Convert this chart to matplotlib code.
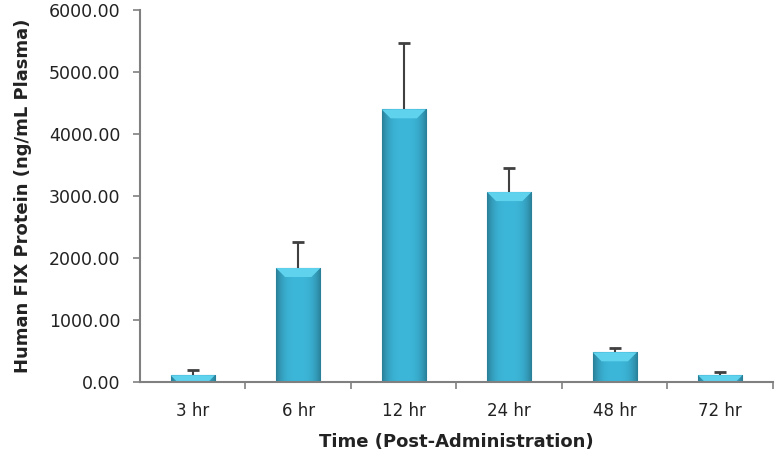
import numpy as np
import matplotlib
matplotlib.use("Agg")
import matplotlib.pyplot as plt
from matplotlib.patches import Polygon

categories = ["3 hr", "6 hr", "12 hr", "24 hr", "48 hr", "72 hr"]
values = [110, 1840, 4400, 3065, 480, 110]
err_upper = [80, 420, 1070, 385, 70, 50]
yticks = [0, 1000, 2000, 3000, 4000, 5000, 6000]

fig = plt.figure(figsize=(7.79, 4.62), dpi=100)
ax = fig.add_axes([0.1797, 0.173, 0.8126, 0.805])
x = np.arange(len(categories))
ax.set_xlim(-0.5, len(categories) - 0.5)
ax.set_ylim(0, 6000)

body = "#34a8cb"
bars = ax.bar(x, values, width=0.42, color=body, edgecolor="#2b8fb0", linewidth=0.8, zorder=2)

# gradient body + bevel top
grad = np.linspace(0, 1, 64)
shade = 1 - 0.3 * (np.abs(grad - 0.5) * 2) ** 3
base = np.array(matplotlib.colors.to_rgb("#3cb6d9"))
img = (base[None, :] * shade[:, None])[None, :, :]
fig.canvas.draw()
inv = ax.transData.inverted()
for b in bars:
    x0, y0 = b.get_x(), b.get_y()
    w, h = b.get_width(), b.get_height()
    im = ax.imshow(img, extent=(x0, x0 + w, y0, y0 + h), aspect="auto", zorder=2.1, interpolation="bilinear")
    im.set_clip_path(b)
    p0 = ax.transData.transform((x0, h))
    p1 = ax.transData.transform((x0 + w, h))
    bev = min(9, (p0[1] - ax.transData.transform((x0, 0))[1]))
    q0 = inv.transform((p0[0] + bev, p0[1] - bev))
    q1 = inv.transform((p1[0] - bev, p1[1] - bev))
    poly = Polygon([(x0, h), (x0 + w, h), (q1[0], q1[1]), (q0[0], q0[1])],
                   closed=True, facecolor="#5fd2ee", edgecolor="none", zorder=2.2)
    ax.add_patch(poly)

eb = ax.errorbar(x, values, yerr=[np.zeros(len(values)), err_upper], fmt="none",
                 ecolor="#404040", elinewidth=1.5, capsize=4.5, capthick=2, zorder=3)
eb[1][0].set_visible(False)

for s in ["top", "right"]:
    ax.spines[s].set_visible(False)
for s in ["left", "bottom"]:
    ax.spines[s].set_color("#808080")
    ax.spines[s].set_linewidth(1.5)
    ax.spines[s].set_zorder(4)

ax.set_yticks(yticks)
ax.set_yticklabels([f"{v:.2f}" for v in yticks], fontsize=12.5, color="#222222")
ax.tick_params(axis="y", length=5, width=1.2, color="#808080", pad=9)

ax.set_xticks(x)
ax.set_xticklabels(categories, fontsize=12, color="#222222")
ax.tick_params(axis="x", length=0, pad=14)
ax.set_xticks(np.arange(len(categories)) + 0.5, minor=True)
ax.tick_params(axis="x", which="minor", length=5, width=1.2, color="#808080")

ax.set_xlabel("Time (Post-Administration)", fontsize=13, fontweight="bold", color="#222222", labelpad=10)
ax.set_ylabel("Human FIX Protein (ng/mL Plasma)", fontsize=13, fontweight="bold", color="#222222", labelpad=12)

fig.savefig("out.png", dpi=100)
